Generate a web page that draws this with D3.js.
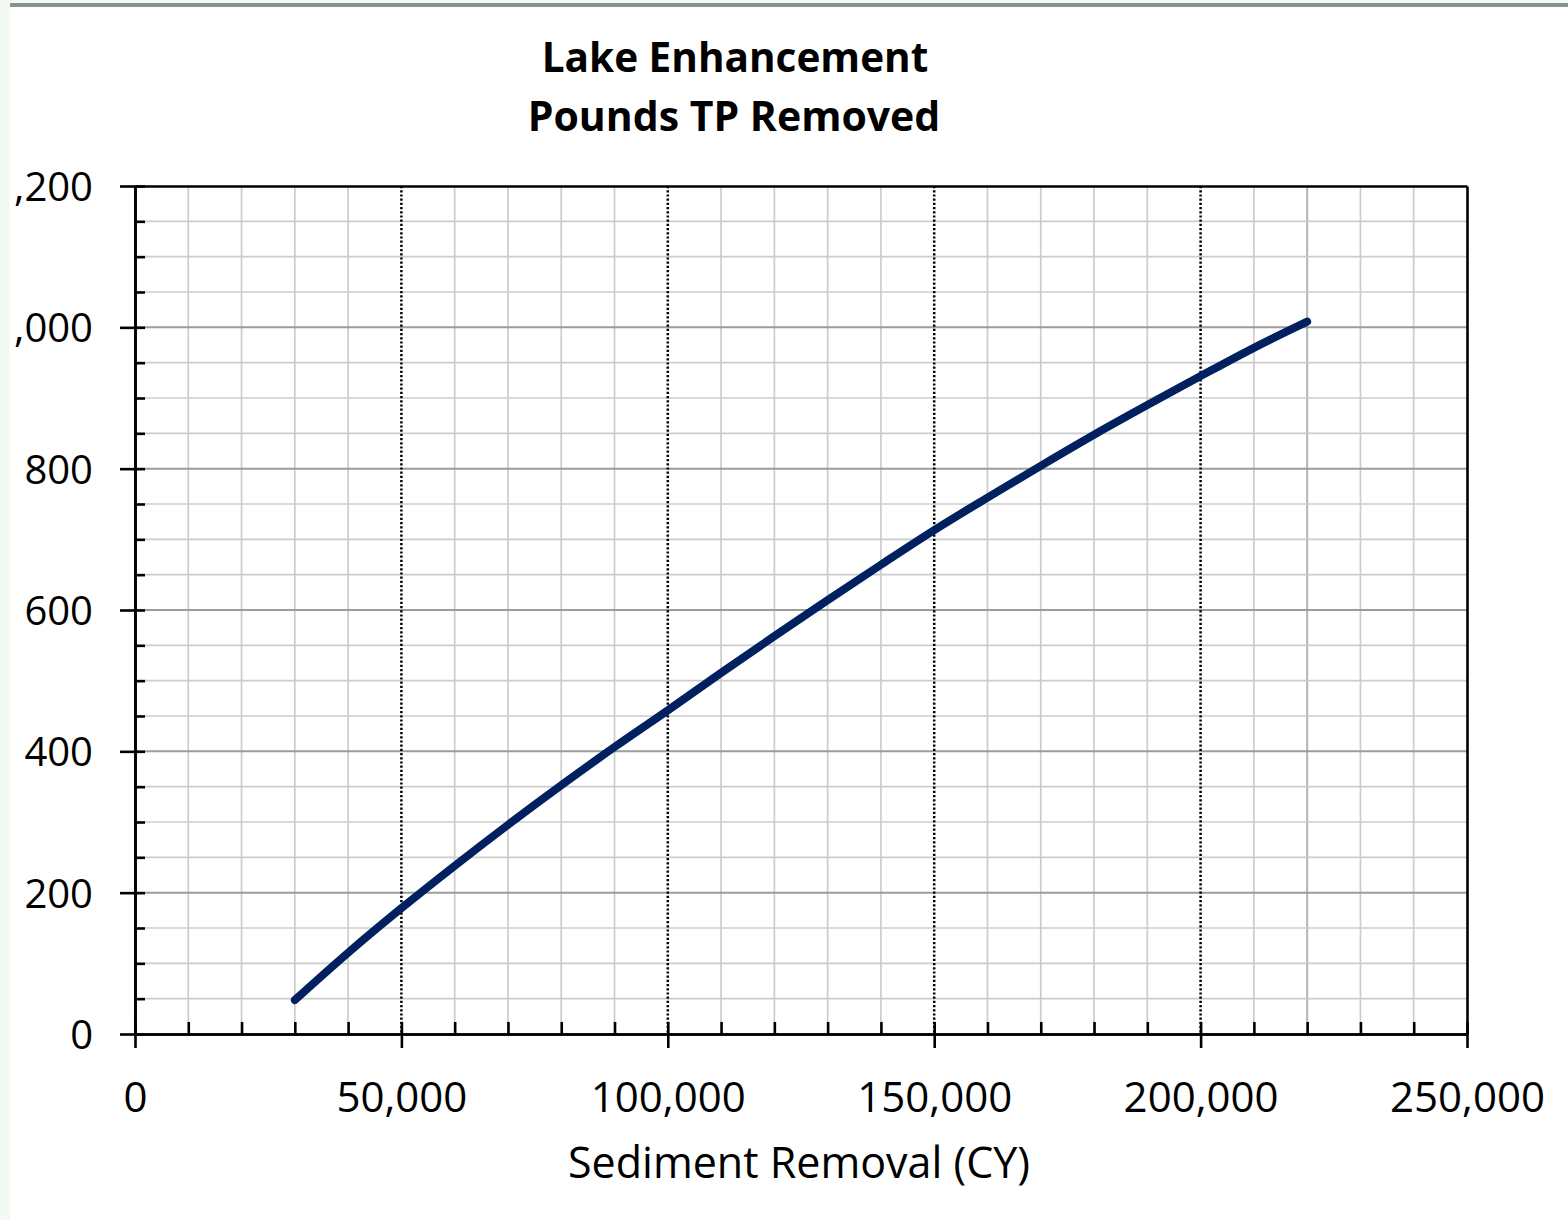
<!DOCTYPE html>
<html>
<head>
<meta charset="utf-8">
<script src="https://cdn.jsdelivr.net/npm/d3@7"></script>
<style>
  html, body { margin: 0; padding: 0; background: #f3f9f3; }
  svg { display: block; }
  text { font-family: "Open Sans", "Noto Sans", sans-serif; fill: #000; }
</style>
</head>
<body>
<svg id="chart" width="1568" height="1220"></svg>
<script>
// ---- data ----
const sedimentCY = [30000, 40000, 50000, 60000, 70000, 80000, 90000, 100000, 110000, 120000,
                    130000, 140000, 150000, 160000, 170000, 180000, 190000, 200000, 210000, 220000];
const poundsTP   = [48, 115, 178, 238, 296, 352, 406, 458, 511, 563,
                    614, 664, 713, 759, 804, 848, 890, 931, 971, 1008];
const titleLines = ["Lake Enhancement", "Pounds TP Removed"];
const xTitle = "Sediment Removal (CY)";
const xMajorTicks = [0, 50000, 100000, 150000, 200000, 250000];
const xMinorTicks = d3.range(0, 250001, 10000);
const yMajorTicks = [0, 200, 400, 600, 800, 1000, 1200];
const yMinorTicks = d3.range(0, 1201, 50);

// ---- layout ----
const svg = d3.select("#chart");
const W = 1568, H = 1220;
const plot = { left: 135, right: 1467, top: 186, bottom: 1034 };

// page background
svg.append("rect").attr("x", 10).attr("y", 7).attr("width", W - 10).attr("height", H - 7).attr("fill", "#ffffff");
svg.append("rect").attr("x", 10).attr("y", 3).attr("width", W - 10).attr("height", 4).attr("fill", "#8d918d");

const x = d3.scaleLinear().domain([0, 250000]).range([plot.left, plot.right]);
const y = d3.scaleLinear().domain([0, 1200]).range([plot.bottom, plot.top]);

// ---- gridlines ----
const grid = svg.append("g");
grid.selectAll("line.vmin").data(xMinorTicks.filter(v => v % 50000 !== 0 && v !== 220000))
  .join("line").attr("class", "vmin")
  .attr("x1", d => x(d)).attr("x2", d => x(d)).attr("y1", plot.top).attr("y2", plot.bottom)
  .attr("stroke", "#cccccc").attr("stroke-width", 1.7);
grid.selectAll("line.v220").data([220000])
  .join("line").attr("class", "v220")
  .attr("x1", d => x(d)).attr("x2", d => x(d)).attr("y1", plot.top).attr("y2", plot.bottom)
  .attr("stroke", "#b4b4b4").attr("stroke-width", 2);
grid.selectAll("line.hmin").data(yMinorTicks.filter(v => v % 200 !== 0))
  .join("line").attr("class", "hmin")
  .attr("x1", plot.left).attr("x2", plot.right).attr("y1", d => y(d)).attr("y2", d => y(d))
  .attr("stroke", "#cccccc").attr("stroke-width", 1.7);
grid.selectAll("line.hmaj").data(yMajorTicks.filter(v => v > 0 && v < 1200))
  .join("line").attr("class", "hmaj")
  .attr("x1", plot.left).attr("x2", plot.right).attr("y1", d => y(d)).attr("y2", d => y(d))
  .attr("stroke", "#9c9c9c").attr("stroke-width", 2);
grid.selectAll("line.vmaj").data(xMajorTicks.filter(v => v > 0 && v < 250000))
  .join("line").attr("class", "vmaj")
  .attr("x1", d => x(d)).attr("x2", d => x(d)).attr("y1", plot.top).attr("y2", plot.bottom)
  .attr("stroke", "#000").attr("stroke-width", 2.5).attr("stroke-dasharray", "2.2,2");

// ---- axes ----
function styleAxis(g) {
  g.selectAll("path.domain").attr("stroke", "#000").attr("stroke-width", 2.6);
  g.selectAll(".tick line").attr("stroke", "#000").attr("stroke-width", 2.6);
}

const yAxisG = svg.append("g").attr("transform", `translate(${plot.left},0)`)
  .call(d3.axisLeft(y).tickValues(yMajorTicks).tickSize(15).tickSizeOuter(0).tickPadding(27)
        .tickFormat(d3.format(",")));
yAxisG.selectAll("text").attr("font-size", 40).attr("dy", "0.36em")
  .style("font-family", '"Open Sans", sans-serif').attr("fill", "#000");
styleAxis(yAxisG);

const yInner = svg.append("g").attr("transform", `translate(${plot.left},0)`)
  .call(d3.axisRight(y).tickValues(yMinorTicks).tickSize(10).tickSizeOuter(0).tickFormat(""));
styleAxis(yInner);

const yRight = svg.append("g").attr("transform", `translate(${plot.right},0)`)
  .call(d3.axisRight(y).tickValues([]).tickSizeOuter(0));
styleAxis(yRight);

const xAxisG = svg.append("g").attr("transform", `translate(0,${plot.bottom})`)
  .call(d3.axisBottom(x).tickValues(xMajorTicks).tickSize(14).tickSizeOuter(0).tickPadding(34)
        .tickFormat(d3.format(",")));
xAxisG.selectAll("text").attr("font-size", 42)
  .style("font-family", '"Open Sans", sans-serif').attr("fill", "#000");
styleAxis(xAxisG);

const xInner = svg.append("g").attr("transform", `translate(0,${plot.bottom})`)
  .call(d3.axisTop(x).tickValues(xMinorTicks).tickSize(12).tickSizeOuter(0).tickFormat(""));
styleAxis(xInner);

const xTop = svg.append("g").attr("transform", `translate(0,${plot.top})`)
  .call(d3.axisTop(x).tickValues([]).tickSizeOuter(0));
styleAxis(xTop);

// ---- series line ----
const lineGen = d3.line()
  .x((d, i) => x(sedimentCY[i]))
  .y(d => y(d))
  .curve(d3.curveMonotoneX);
svg.append("path").datum(poundsTP)
  .attr("d", lineGen)
  .attr("fill", "none")
  .attr("stroke", "#002060")
  .attr("stroke-width", 8)
  .attr("stroke-linecap", "round")
  .attr("stroke-linejoin", "round");

// ---- titles ----
svg.append("text").attr("x", 735).attr("y", 72).attr("text-anchor", "middle")
  .attr("font-size", 40.5).attr("font-weight", "bold").text(titleLines[0]);
svg.append("text").attr("x", 734).attr("y", 131).attr("text-anchor", "middle")
  .attr("font-size", 41).attr("font-weight", "bold").text(titleLines[1]);

svg.append("text").attr("x", 799).attr("y", 1178).attr("text-anchor", "middle")
  .attr("font-size", 43).text(xTitle);

// left strip (clips the y labels like the reference)
svg.append("rect").attr("x", 0).attr("y", 0).attr("width", 10).attr("height", H).attr("fill", "#f3f9f3");
svg.append("rect").attr("x", 10).attr("y", 0).attr("width", W - 10).attr("height", 3).attr("fill", "#f3f9f3");
</script>
</body>
</html>
